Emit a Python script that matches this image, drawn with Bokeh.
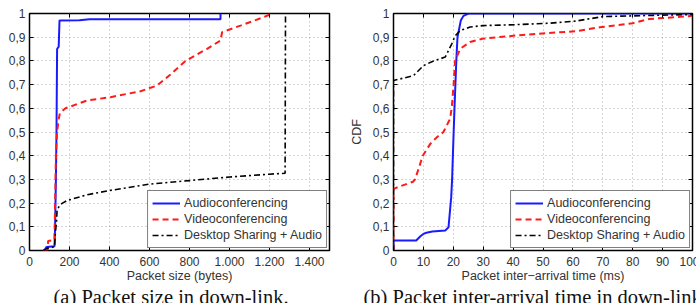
from bokeh.plotting import figure
from bokeh.layouts import row
from bokeh.models import (FixedTicker, CustomJSTickFormatter, LinearAxis, Legend,
                          LegendItem, Title, Range1d)
from bokeh.embed import file_html
from bokeh.resources import INLINE

# ---------------- data: (a) packet size in down-link ----------------
size_ticks = [0, 200, 400, 600, 800, 1000, 1200, 1400]
size_tick_labels = ["0", "200", "400", "600", "800", "1.000", "1.200", "1.400"]
cdf_ticks = [0, 0.1, 0.2, 0.3, 0.4, 0.5, 0.6, 0.7, 0.8, 0.9, 1.0]

size_audio_x = [70, 78, 85, 125, 128, 132, 135, 138, 146, 150, 250, 300, 955, 955]
size_audio_y = [0, 0.005, 0.015, 0.018, 0.1, 0.3, 0.5, 0.85, 0.86, 0.97, 0.972, 0.976, 0.976, 1.0]

size_video_x = [70, 90, 92, 93, 110, 125, 128, 132, 138, 145, 152, 180, 288, 405, 555, 638,
                705, 780, 888, 955, 963, 1055, 1172, 1213]
size_video_y = [0, 0.003, 0.01, 0.04, 0.042, 0.045, 0.2, 0.4, 0.5, 0.55, 0.58, 0.60, 0.633,
                0.647, 0.672, 0.696, 0.743, 0.80, 0.851, 0.886, 0.921, 0.949, 0.985, 1.0]

size_desk_x = [70, 90, 125, 130, 135, 138, 150, 165, 188, 288, 400, 600, 800, 1000, 1200, 1278, 1280]
size_desk_y = [0, 0.01, 0.015, 0.08, 0.12, 0.17, 0.19, 0.2, 0.211, 0.235, 0.253, 0.28, 0.295,
               0.31, 0.322, 0.326, 1.0]

# ---------------- data: (b) packet inter-arrival time ----------------
iat_ticks = [0, 10, 20, 30, 40, 50, 60, 70, 80, 90, 100]

iat_audio_x = [0, 0, 7.6, 9, 10, 11, 13, 17.3, 18.4, 19.3, 19.6, 20.1, 20.4, 21, 21.4, 22.5,
               23.4, 25.1, 100]
iat_audio_y = [0, 0.042, 0.042, 0.06, 0.07, 0.075, 0.08, 0.084, 0.098, 0.225, 0.3, 0.493, 0.6,
               0.80, 0.90, 0.97, 0.99, 1.0, 1.0]

iat_video_x = [0, 0, 2, 4.5, 6.5, 7.2, 8.4, 9.8, 12.3, 14.5, 16.7, 18.9, 19.5, 20.1, 20.6, 22.3,
               25.6, 30, 41, 52, 61, 69, 80, 85.6, 96.8, 100]
iat_video_y = [0, 0.26, 0.27, 0.281, 0.29, 0.3, 0.345, 0.40, 0.45, 0.478, 0.5, 0.555, 0.604,
               0.7, 0.8, 0.851, 0.88, 0.894, 0.907, 0.918, 0.925, 0.942, 0.959, 0.977, 0.987, 0.99]

iat_desk_x = [0, 0, 6.7, 10, 13.4, 17.3, 19.5, 20.6, 22.3, 25.6, 29.9, 41, 52, 61, 70, 80, 100]
iat_desk_y = [0, 0.717, 0.738, 0.78, 0.80, 0.816, 0.872, 0.905, 0.928, 0.943, 0.949, 0.953,
              0.959, 0.968, 0.987, 0.99, 0.996]

series_names = ["Audioconferencing", "Videoconferencing", "Desktop Sharing + Audio"]
captions = ["(a) Packet size in down-link.", "(b) Packet inter-arrival time in down-link."]
x_labels = ["Packet size (bytes)", "Packet inter\u2212arrival time (ms)"]
y_label = "CDF"

SANS = "Liberation Sans"
SERIF = "Liberation Serif"
TXT = "#333333"

y_fmt = CustomJSTickFormatter(code="""
    if (Math.abs(tick) < 1e-9) return '0';
    if (Math.abs(tick - 1) < 1e-9) return '1';
    return tick.toFixed(1).replace('.', ',');
""")
blank_fmt = CustomJSTickFormatter(code="return '';")


def style(p, xticks, xlabel, ylabel, caption, cap_offset, xlabels=None):
    p.outline_line_color = "black"
    p.outline_line_width = 1.5
    p.background_fill_color = "white"
    p.border_fill_color = "white"
    for g in (p.xgrid[0], p.ygrid[0]):
        g.grid_line_color = "#a8a8a8"
        g.grid_line_dash = "1 3"
        g.grid_line_width = 1
    p.xaxis.ticker = FixedTicker(ticks=xticks)
    p.yaxis.ticker = FixedTicker(ticks=cdf_ticks)
    p.xgrid.ticker = FixedTicker(ticks=xticks)
    p.ygrid.ticker = FixedTicker(ticks=cdf_ticks)
    if xlabels is not None:
        p.xaxis.major_label_overrides = {t: l for t, l in zip(xticks, xlabels)}
    p.yaxis.formatter = y_fmt
    xa, ya = p.xaxis[0], p.yaxis[0]
    xa.axis_label = xlabel
    if ylabel:
        ya.axis_label = ylabel
    for ax in (xa, ya):
        ax.axis_line_color = None
        ax.major_tick_in = 4
        ax.major_tick_out = 0
        ax.major_tick_line_color = "black"
        ax.minor_tick_line_color = None
        ax.major_label_text_font = SANS
        ax.major_label_text_font_size = "12px"
        ax.major_label_text_color = TXT
        ax.major_label_standoff = 4
        ax.axis_label_text_font = SANS
        ax.axis_label_text_font_size = "12.5px"
        ax.axis_label_text_font_style = "normal"
        ax.axis_label_text_color = TXT
    xa.major_label_standoff = 6
    xa.axis_label_standoff = 0
    ya.axis_label_standoff = 6
    # mirrored ticks on top and right
    top = LinearAxis(ticker=FixedTicker(ticks=xticks), formatter=blank_fmt,
                     axis_line_color=None, major_tick_in=4, major_tick_out=0,
                     major_tick_line_color="black", minor_tick_line_color=None,
                     major_label_standoff=0)
    right = LinearAxis(ticker=FixedTicker(ticks=cdf_ticks), formatter=blank_fmt,
                       axis_line_color=None, major_tick_in=4, major_tick_out=0,
                       major_tick_line_color="black", minor_tick_line_color=None,
                       major_label_standoff=0)
    p.add_layout(top, "above")
    p.add_layout(right, "right")
    cap = Title(text=caption, align="left", offset=cap_offset, standoff=0,
                vertical_align="top",
                text_font=SERIF, text_font_size="20.5px", text_font_style="normal",
                text_color="#111111", text_line_height=0.8)
    p.add_layout(cap, "below")


def add_series(p, data):
    items = []
    colors = ["#1a1aff", "#ff1a1a", "black"]
    dashes = ["solid", "6 4", "6 3 2 3"]
    widths = [2, 2, 1.6]
    for (xs, ys), name, c, d, w in zip(data, series_names, colors, dashes, widths):
        r = p.line(xs, ys, line_color=c, line_dash=d, line_width=w)
        items.append(LegendItem(label=name, renderers=[r]))
    leg = Legend(items=items, location="bottom_right")
    leg.border_line_color = "black"
    leg.border_line_width = 1.5
    leg.background_fill_color = "white"
    leg.background_fill_alpha = 1
    leg.label_text_font = SANS
    leg.label_text_font_size = "12.5px"
    leg.label_text_color = TXT
    leg.glyph_width = 28
    leg.glyph_height = 16
    leg.label_height = 16
    leg.spacing = 0
    leg.padding = 4
    leg.margin = 2
    leg.label_standoff = 4
    p.add_layout(leg)


# ---------------- left figure ----------------
p1 = figure(frame_width=300, frame_height=237, output_backend="svg", toolbar_location=None,
            x_range=Range1d(0, 1500), y_range=Range1d(0, 1),
            min_border_left=29, min_border_right=17, min_border_top=13, min_border_bottom=0)
style(p1, size_ticks, x_labels[0], None, captions[0], 24, size_tick_labels)
add_series(p1, [(size_audio_x, size_audio_y), (size_video_x, size_video_y),
                (size_desk_x, size_desk_y)])

# ---------------- right figure ----------------
p2 = figure(frame_width=299, frame_height=237, output_backend="svg", toolbar_location=None,
            x_range=Range1d(0, 100), y_range=Range1d(0, 1),
            min_border_left=44, min_border_right=7, min_border_top=13, min_border_bottom=0)
style(p2, iat_ticks, x_labels[1], y_label, captions[1], -30)
add_series(p2, [(iat_audio_x, iat_audio_y), (iat_video_x, iat_video_y),
                (iat_desk_x, iat_desk_y)])

layout = row(p1, p2, spacing=0)
open("out.html", "w").write(file_html(layout, INLINE))
